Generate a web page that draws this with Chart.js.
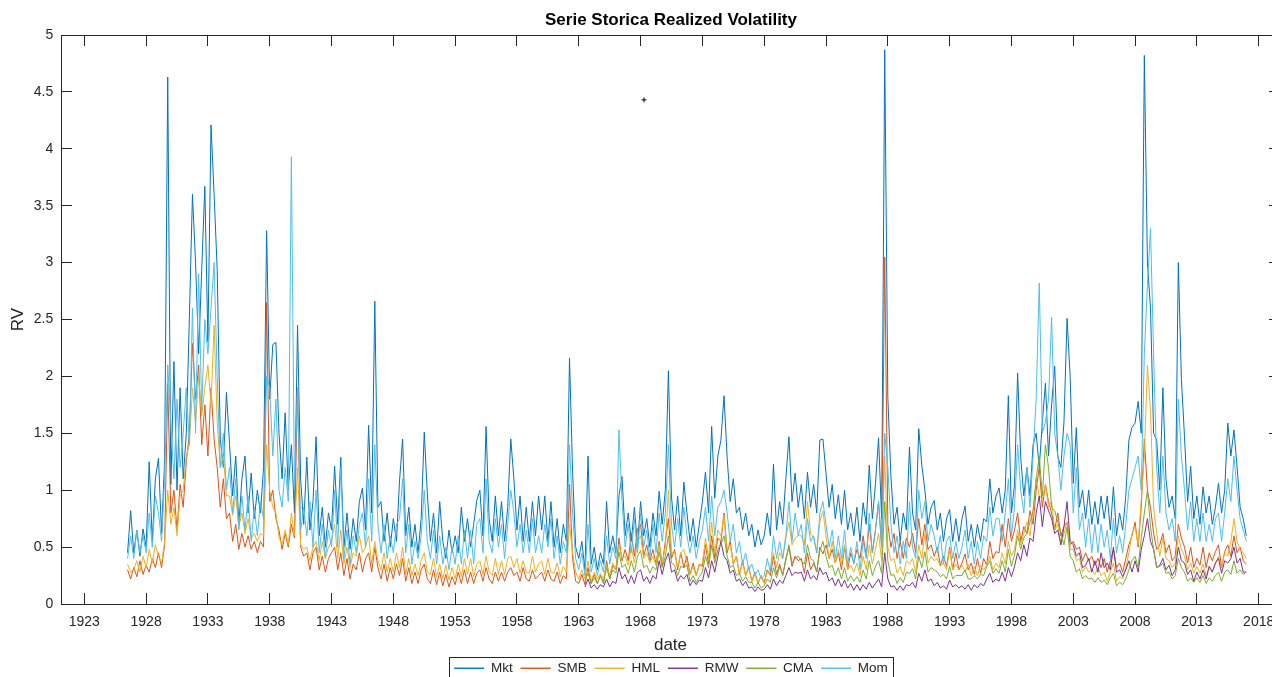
<!DOCTYPE html>
<html>
<head>
<meta charset="utf-8">
<title>Serie Storica Realized Volatility</title>
<script src="https://cdn.jsdelivr.net/npm/chart.js@4.4.1/dist/chart.umd.min.js"></script>
<style>
    html, body { margin: 0; padding: 0; background: #fff; overflow: hidden; }
    #wrap { width: 1272px; height: 677px; overflow: hidden; }
</style>
</head>
<body>
<div id="wrap"><canvas id="chartrv" width="1342" height="685"></canvas></div>
<script>
// serie trimestrali della volatilità realizzata (un valore ogni 3 mesi)
var startYear = 1926.5;   // Mkt, SMB, HML, Mom da luglio 1926
var startFive = 1963.5;   // RMW e CMA da luglio 1963
var step = 0.25;

var mkt = [
    0.45, 0.82,
    0.45, 0.65, 0.42, 0.66,
    0.50, 1.25, 0.55, 1.10,
    1.28, 0.62, 1.27, 4.63,
    1.05, 2.13, 1.00, 1.90, // 1930
    1.10, 1.50, 2.52, 3.60,
    3.00, 2.20, 2.94, 3.67,
    2.30, 4.21, 3.60, 2.94,
    1.45, 1.20, 1.86, 1.40,
    0.95, 1.30, 0.70, 1.10,
    1.30, 0.80, 1.15, 0.75,
    1.00, 0.80, 1.20, 3.28,
    1.80, 2.28, 2.30, 1.50,
    1.10, 1.68, 1.00, 1.40,
    0.80, 2.45, 1.10, 0.70, // 1940
    1.29, 0.65, 0.90, 1.47,
    0.60, 0.85, 0.50, 0.80,
    0.65, 1.21, 0.70, 1.29,
    0.50, 0.80, 0.48, 0.75,
    0.55, 0.90, 1.02, 0.65,
    1.57, 0.80, 2.66, 0.85,
    0.90, 0.55, 0.80, 0.50,
    0.75, 0.55, 1.08, 1.45,
    0.60, 0.85, 0.50, 0.70,
    0.45, 0.75, 1.51, 0.97, // 1950
    0.55, 0.80, 0.45, 0.90,
    0.55, 0.40, 0.65, 0.45,
    0.60, 0.45, 0.85, 0.55,
    0.75, 0.50, 0.70, 0.91,
    1.00, 0.60, 1.56, 0.75,
    0.55, 0.95, 0.60, 0.90,
    0.55, 0.85, 1.45, 1.10,
    0.65, 0.95, 0.55, 0.85,
    0.55, 0.90, 0.60, 0.95,
    0.65, 0.95, 0.55, 0.90, // 1960
    0.50, 0.75, 0.45, 0.70,
    0.55, 2.16, 1.16, 0.50,
    0.40, 0.55, 0.30, 1.30,
    0.35, 0.50, 0.30, 0.45,
    0.35, 0.90, 0.45, 0.60,
    0.45, 0.95, 1.12, 0.60,
    0.80, 0.55, 0.85, 0.50,
    0.90, 0.60, 0.75, 0.50,
    0.80, 0.60, 0.99, 0.70,
    1.00, 2.05, 0.94, 0.65, // 1970
    0.95, 0.60, 1.07, 0.80,
    0.55, 0.75, 0.50, 0.70,
    0.90, 1.16, 0.80, 1.56,
    0.93, 1.30, 1.44, 1.83,
    1.29, 0.90, 1.10, 0.80,
    0.85, 0.65, 0.80, 0.60,
    0.70, 0.50, 0.65, 0.52,
    0.60, 0.80, 0.60, 1.23,
    0.65, 0.90, 0.70, 1.10,
    1.47, 0.90, 1.15, 0.85, // 1980
    1.05, 0.75, 1.16, 0.85,
    1.05, 0.80, 1.44, 1.45,
    1.15, 0.85, 1.05, 0.75,
    0.96, 0.70, 1.00, 0.65,
    0.80, 0.60, 0.85, 0.55,
    0.89, 0.70, 1.22, 0.75,
    1.05, 1.46, 0.75, 4.87,
    1.82, 1.12, 0.70, 0.85,
    0.55, 0.80, 0.65, 1.38,
    0.80, 0.65, 1.54, 1.22, // 1990
    1.00, 0.70, 0.85, 0.91,
    0.65, 0.80, 0.55, 0.75,
    0.83, 0.55, 0.75, 0.55,
    0.75, 0.86, 0.55, 0.70,
    0.50, 0.70, 0.55, 0.75,
    0.72, 1.10, 0.80, 0.95,
    1.02, 0.80, 1.00, 1.83,
    0.80, 1.05, 2.03, 1.29,
    0.95, 1.20, 0.95, 1.40,
    1.50, 1.20, 1.60, 1.94, // 2000
    1.30, 1.75, 2.09, 1.30,
    1.20, 1.60, 2.51, 2.00,
    1.06, 1.55, 0.85, 1.00,
    0.75, 1.00, 0.70, 0.90,
    0.70, 0.95, 0.75, 0.95,
    0.65, 1.03, 0.60, 0.80,
    0.65, 0.95, 1.44, 1.55,
    1.59, 1.78, 1.50, 4.82,
    3.00, 2.60, 1.50, 1.44,
    1.00, 1.90, 1.10, 0.85, // 2010
    0.95, 0.75, 3.00, 1.97,
    1.47, 0.90, 1.21, 0.75,
    0.95, 0.70, 1.03, 0.80,
    0.95, 0.70, 0.85, 1.06,
    0.80, 1.00, 1.59, 1.30,
    1.53, 1.21, 0.85, 0.75,
    0.60
];

var smb = [
    0.30, 0.22,
    0.32, 0.24, 0.38, 0.26,
    0.34, 0.28, 0.40, 0.32,
    0.45, 0.32, 0.52, 1.94,
    0.80, 1.00, 0.65, 1.05, // 1930
    0.85, 1.25, 1.50, 2.29,
    1.80, 2.10, 1.40, 1.75,
    1.30, 1.90, 1.45, 1.20,
    0.85, 1.10, 0.75, 0.80,
    0.55, 0.70, 0.48, 0.62,
    0.50, 0.60, 0.48, 0.55,
    0.45, 0.55, 0.50, 2.65,
    0.90, 1.00, 0.75, 0.65,
    0.48, 0.62, 0.50, 0.70,
    0.58, 1.90, 0.50, 0.42, // 1940
    0.45, 0.30, 0.45, 0.50,
    0.30, 0.42, 0.28, 0.40,
    0.45, 0.50, 0.30, 0.45,
    0.25, 0.40, 0.22, 0.35,
    0.30, 0.45, 0.28, 0.40,
    0.45, 0.28, 0.50, 0.32,
    0.22, 0.35, 0.20, 0.32,
    0.22, 0.35, 0.25, 0.40,
    0.20, 0.32, 0.18, 0.28,
    0.18, 0.30, 0.35, 0.22, // 1950
    0.18, 0.30, 0.17, 0.28,
    0.16, 0.26, 0.15, 0.24,
    0.17, 0.28, 0.18, 0.30,
    0.18, 0.28, 0.18, 0.27,
    0.30, 0.20, 0.32, 0.22,
    0.18, 0.28, 0.20, 0.28,
    0.20, 0.28, 0.32, 0.25,
    0.28, 0.20, 0.32, 0.22,
    0.20, 0.30, 0.22, 0.25,
    0.28, 0.20, 0.30, 0.22, // 1960
    0.20, 0.28, 0.18, 0.25,
    0.22, 1.05, 0.40, 0.20,
    0.18, 0.26, 0.17, 0.32,
    0.18, 0.26, 0.18, 0.25,
    0.18, 0.38, 0.22, 0.34,
    0.30, 0.58, 0.38, 0.48,
    0.38, 0.62, 0.42, 0.66,
    0.70, 0.42, 0.52, 0.38,
    0.48, 0.35, 0.55, 0.34,
    0.55, 0.75, 0.40, 0.48, // 1970
    0.30, 0.45, 0.32, 0.42,
    0.26, 0.36, 0.25, 0.35,
    0.33, 0.52, 0.35, 0.60,
    0.40, 0.58, 0.55, 0.80,
    0.45, 0.55, 0.35, 0.42,
    0.26, 0.38, 0.25, 0.32,
    0.20, 0.28, 0.18, 0.25,
    0.19, 0.30, 0.25, 0.42,
    0.26, 0.35, 0.25, 0.40,
    0.50, 0.33, 0.42, 0.38, // 1980
    0.40, 0.27, 0.45, 0.30,
    0.36, 0.28, 0.50, 0.44,
    0.52, 0.40, 0.48, 0.36,
    0.45, 0.30, 0.50, 0.30,
    0.45, 0.36, 0.48, 0.40,
    0.60, 0.42, 0.70, 0.45,
    0.65, 0.90, 0.50, 3.05,
    0.70, 0.50, 0.62, 0.40,
    0.55, 0.40, 0.58, 0.50,
    0.62, 0.45, 0.75, 0.52, // 1990
    0.70, 0.48, 0.52, 0.42,
    0.50, 0.34, 0.42, 0.33,
    0.50, 0.30, 0.45, 0.30,
    0.36, 0.44, 0.30, 0.36,
    0.26, 0.40, 0.27, 0.40,
    0.34, 0.55, 0.40, 0.46,
    0.45, 0.70, 0.50, 0.75,
    0.55, 0.65, 0.80, 0.55,
    0.68, 0.62, 0.82, 0.70,
    1.00, 1.20, 0.85, 1.05, // 2000
    0.90, 0.80, 0.65, 0.80,
    0.60, 0.68, 0.72, 0.52,
    0.55, 0.48, 0.50, 0.38,
    0.45, 0.38, 0.42, 0.34,
    0.40, 0.32, 0.40, 0.28,
    0.38, 0.48, 0.32, 0.36,
    0.28, 0.40, 0.52, 0.60,
    0.72, 0.50, 0.85, 1.45,
    1.00, 0.85, 0.62, 0.48,
    0.52, 0.62, 0.45, 0.52, // 2010
    0.38, 0.42, 0.70, 0.58,
    0.50, 0.36, 0.50, 0.32,
    0.40, 0.34, 0.50, 0.32,
    0.45, 0.38, 0.46, 0.52,
    0.32, 0.46, 0.52, 0.42,
    0.60, 0.45, 0.50, 0.38,
    0.35
];

var hml = [
    0.35, 0.28,
    0.30, 0.38, 0.28, 0.42,
    0.32, 0.48, 0.36, 0.52,
    0.42, 0.36, 0.55, 1.00,
    0.70, 0.85, 0.60, 0.95, // 1930
    1.00, 1.30, 1.40, 1.90,
    1.60, 2.00, 1.65, 1.90,
    2.10, 1.75, 2.45, 1.60,
    1.20, 1.30, 0.95, 0.95,
    0.78, 0.95, 0.68, 0.80,
    0.62, 0.75, 0.58, 0.62,
    0.55, 0.62, 0.60, 1.40,
    1.00, 0.85, 0.80, 0.58,
    0.52, 0.65, 0.52, 0.80,
    0.60, 1.20, 0.52, 0.48, // 1940
    0.50, 0.38, 0.50, 0.55,
    0.38, 0.55, 0.40, 0.50,
    0.55, 0.70, 0.40, 0.65,
    0.35, 0.50, 0.32, 0.45,
    0.42, 0.60, 0.45, 0.50,
    0.60, 0.35, 0.55, 0.38,
    0.30, 0.45, 0.28, 0.40,
    0.28, 0.45, 0.32, 0.50,
    0.26, 0.40, 0.25, 0.35,
    0.25, 0.38, 0.45, 0.28, // 1950
    0.26, 0.40, 0.24, 0.35,
    0.22, 0.34, 0.21, 0.32,
    0.22, 0.35, 0.24, 0.40,
    0.26, 0.40, 0.24, 0.35,
    0.38, 0.26, 0.42, 0.28,
    0.25, 0.40, 0.26, 0.38,
    0.26, 0.40, 0.42, 0.32,
    0.40, 0.27, 0.38, 0.28,
    0.27, 0.42, 0.28, 0.35,
    0.38, 0.26, 0.40, 0.28, // 1960
    0.27, 0.36, 0.24, 0.33,
    0.28, 0.70, 0.45, 0.28,
    0.22, 0.30, 0.22, 0.38,
    0.20, 0.28, 0.22, 0.27,
    0.22, 0.34, 0.25, 0.36,
    0.30, 0.52, 0.40, 0.42,
    0.34, 0.50, 0.36, 0.55,
    0.60, 0.40, 0.45, 0.36,
    0.42, 0.34, 0.52, 0.36,
    0.50, 1.00, 0.45, 0.46, // 1970
    0.32, 0.45, 0.48, 0.36,
    0.26, 0.33, 0.25, 0.34,
    0.36, 0.58, 0.40, 0.72,
    0.45, 0.65, 0.60, 0.78,
    0.48, 0.52, 0.35, 0.42,
    0.26, 0.36, 0.25, 0.34,
    0.19, 0.27, 0.18, 0.25,
    0.18, 0.28, 0.30, 0.45,
    0.32, 0.45, 0.40, 0.58,
    0.72, 0.52, 0.58, 0.60, // 1980
    0.60, 0.52, 0.90, 0.62,
    0.58, 0.45, 0.72, 0.82,
    0.60, 0.40, 0.55, 0.36,
    0.48, 0.35, 0.52, 0.30,
    0.34, 0.28, 0.36, 0.25,
    0.42, 0.30, 0.52, 0.35,
    0.48, 0.62, 0.38, 1.30,
    0.50, 0.38, 0.40, 0.27,
    0.33, 0.25, 0.38, 0.35,
    0.40, 0.27, 0.52, 0.40, // 1990
    0.62, 0.36, 0.42, 0.38,
    0.40, 0.33, 0.36, 0.30,
    0.48, 0.30, 0.35, 0.30,
    0.34, 0.28, 0.35, 0.25,
    0.33, 0.25, 0.34, 0.30,
    0.34, 0.42, 0.30, 0.36,
    0.32, 0.45, 0.35, 0.55,
    0.42, 0.48, 0.65, 0.52,
    0.62, 0.72, 0.60, 0.82,
    1.10, 0.95, 0.92, 1.05, // 2000
    0.85, 0.90, 0.65, 0.70,
    0.52, 0.62, 0.72, 0.48,
    0.48, 0.38, 0.40, 0.28,
    0.33, 0.28, 0.30, 0.26,
    0.32, 0.25, 0.28, 0.20,
    0.28, 0.36, 0.20, 0.24,
    0.22, 0.32, 0.45, 0.62,
    0.68, 0.52, 0.92, 1.30,
    2.10, 1.70, 0.85, 0.62,
    0.42, 0.58, 0.40, 0.38, // 2010
    0.32, 0.36, 0.60, 0.48,
    0.42, 0.30, 0.36, 0.27,
    0.33, 0.27, 0.35, 0.25,
    0.33, 0.28, 0.36, 0.42,
    0.32, 0.45, 0.42, 0.55,
    0.75, 0.55, 0.48, 0.45,
    0.40
];

var rmw = [
    0.15, 0.22,
    0.14, 0.17, 0.13, 0.17,
    0.15, 0.22, 0.15, 0.20,
    0.18, 0.32, 0.22, 0.26,
    0.18, 0.25, 0.18, 0.28,
    0.30, 0.20, 0.24, 0.18,
    0.25, 0.22, 0.38, 0.26,
    0.38, 0.45, 0.28, 0.30, // 1970
    0.20, 0.25, 0.22, 0.26,
    0.16, 0.21, 0.17, 0.21,
    0.20, 0.32, 0.23, 0.38,
    0.28, 0.42, 0.55, 0.42,
    0.38, 0.27, 0.30, 0.20,
    0.22, 0.16, 0.20, 0.14,
    0.15, 0.11, 0.15, 0.12,
    0.13, 0.17, 0.13, 0.22,
    0.16, 0.21, 0.18, 0.25,
    0.32, 0.25, 0.28, 0.27, // 1980
    0.28, 0.20, 0.30, 0.22,
    0.25, 0.21, 0.32, 0.26,
    0.28, 0.20, 0.23, 0.16,
    0.22, 0.15, 0.21, 0.14,
    0.18, 0.12, 0.17, 0.12,
    0.17, 0.13, 0.19, 0.14,
    0.18, 0.22, 0.15, 0.45,
    0.22, 0.15, 0.16, 0.12,
    0.16, 0.12, 0.17, 0.16,
    0.19, 0.14, 0.27, 0.20, // 1990
    0.30, 0.20, 0.22, 0.16,
    0.19, 0.14, 0.16, 0.13,
    0.21, 0.15, 0.17, 0.14,
    0.16, 0.13, 0.17, 0.12,
    0.17, 0.14, 0.18, 0.16,
    0.22, 0.27, 0.19, 0.22,
    0.20, 0.28, 0.20, 0.32,
    0.24, 0.33, 0.45, 0.38,
    0.52, 0.42, 0.58, 0.55,
    0.80, 0.95, 0.68, 0.90, // 2000
    0.82, 0.75, 0.62, 0.65,
    0.52, 0.68, 0.90, 0.55,
    0.52, 0.42, 0.45, 0.32,
    0.34, 0.40, 0.28, 0.38,
    0.28, 0.45, 0.32, 0.36,
    0.30, 0.50, 0.28, 0.30,
    0.24, 0.30, 0.38, 0.28,
    0.38, 0.28, 0.48, 0.60,
    0.75, 0.55, 0.48, 0.32,
    0.34, 0.40, 0.30, 0.34, // 2010
    0.25, 0.30, 0.50, 0.38,
    0.36, 0.26, 0.30, 0.20,
    0.28, 0.22, 0.30, 0.22,
    0.33, 0.28, 0.36, 0.40,
    0.27, 0.38, 0.36, 0.40,
    0.50, 0.36, 0.40, 0.28,
    0.28
];

var cma = [
    0.20, 0.27,
    0.18, 0.23, 0.18, 0.25,
    0.19, 0.32, 0.22, 0.30,
    0.27, 0.46, 0.32, 0.35,
    0.27, 0.38, 0.28, 0.42,
    0.47, 0.32, 0.34, 0.27,
    0.33, 0.30, 0.46, 0.32,
    0.42, 0.60, 0.36, 0.34, // 1970
    0.25, 0.33, 0.32, 0.34,
    0.20, 0.25, 0.19, 0.24,
    0.28, 0.42, 0.32, 0.52,
    0.36, 0.48, 0.52, 0.60,
    0.42, 0.32, 0.34, 0.25,
    0.27, 0.20, 0.24, 0.19,
    0.19, 0.14, 0.19, 0.14,
    0.16, 0.22, 0.19, 0.32,
    0.23, 0.33, 0.26, 0.38,
    0.52, 0.36, 0.40, 0.42, // 1980
    0.38, 0.35, 0.52, 0.40,
    0.38, 0.28, 0.47, 0.55,
    0.42, 0.32, 0.34, 0.25,
    0.32, 0.22, 0.32, 0.20,
    0.25, 0.20, 0.24, 0.19,
    0.30, 0.22, 0.38, 0.25,
    0.33, 0.38, 0.27, 0.90,
    0.38, 0.25, 0.26, 0.18,
    0.23, 0.19, 0.28, 0.27,
    0.31, 0.22, 0.42, 0.32, // 1990
    0.46, 0.28, 0.32, 0.30,
    0.28, 0.24, 0.26, 0.22,
    0.33, 0.22, 0.25, 0.25,
    0.25, 0.30, 0.22, 0.22,
    0.25, 0.22, 0.26, 0.25,
    0.33, 0.38, 0.27, 0.31,
    0.27, 0.38, 0.28, 0.48,
    0.33, 0.43, 0.60, 0.48,
    0.58, 0.62, 0.72, 0.82,
    1.10, 1.30, 0.95, 1.40, // 2000
    1.20, 0.85, 0.82, 0.72,
    0.62, 0.52, 0.68, 0.42,
    0.38, 0.28, 0.31, 0.22,
    0.25, 0.22, 0.23, 0.19,
    0.23, 0.19, 0.21, 0.17,
    0.23, 0.27, 0.16, 0.19,
    0.17, 0.22, 0.30, 0.38,
    0.42, 0.32, 0.58, 0.80,
    1.00, 0.68, 0.48, 0.32,
    0.33, 0.36, 0.27, 0.28, // 2010
    0.22, 0.25, 0.40, 0.32,
    0.28, 0.20, 0.23, 0.19,
    0.23, 0.19, 0.25, 0.18,
    0.23, 0.20, 0.25, 0.28,
    0.20, 0.28, 0.30, 0.26,
    0.38, 0.27, 0.30, 0.26,
    0.28
];

var mom = [
    0.40, 0.60,
    0.40, 0.65, 0.45, 0.60,
    0.45, 0.80, 0.50, 0.95,
    0.80, 0.55, 1.10, 2.10,
    1.60, 1.10, 1.80, 1.20, // 1930
    1.50, 1.90, 1.40, 2.60,
    1.50, 2.90, 1.70, 2.50,
    2.20, 2.60, 3.00, 2.00,
    1.20, 1.50, 1.00, 1.20,
    0.80, 1.10, 0.65, 0.95,
    0.65, 0.95, 0.55, 0.85,
    0.60, 0.90, 0.75, 2.00,
    1.90, 1.30, 1.80, 1.00,
    0.85, 1.20, 0.90, 3.93,
    1.00, 1.90, 0.65, 0.85, // 1940
    0.60, 0.90, 0.50, 1.00,
    0.45, 0.70, 0.40, 0.65,
    0.50, 1.00, 0.50, 1.20,
    0.40, 0.65, 0.35, 0.60,
    0.45, 0.70, 0.80, 0.50,
    1.10, 0.55, 1.40, 0.70,
    0.45, 0.70, 0.40, 0.60,
    0.45, 0.70, 0.75, 1.10,
    0.45, 0.70, 0.35, 0.55,
    0.40, 0.60, 1.00, 0.55, // 1950
    0.40, 0.65, 0.35, 0.60,
    0.35, 0.50, 0.30, 0.50,
    0.35, 0.60, 0.35, 0.65,
    0.40, 0.65, 0.35, 0.70,
    0.75, 0.45, 1.10, 0.55,
    0.45, 0.75, 0.50, 0.70,
    0.40, 0.70, 1.00, 0.80,
    0.50, 0.70, 0.45, 0.65,
    0.45, 0.75, 0.45, 0.60,
    0.45, 0.70, 0.50, 0.75, // 1960
    0.40, 0.60, 0.35, 0.55,
    0.45, 1.40, 0.80, 0.40,
    0.30, 0.45, 0.25, 0.70,
    0.28, 0.40, 0.25, 0.38,
    0.28, 0.60, 0.35, 0.50,
    0.40, 1.53, 0.90, 0.50,
    0.70, 0.45, 0.75, 0.45,
    0.80, 0.50, 0.65, 0.40,
    0.70, 0.45, 0.80, 0.55,
    0.80, 1.40, 0.70, 0.50, // 1970
    0.75, 0.50, 0.85, 0.60,
    0.45, 0.60, 0.40, 0.55,
    0.65, 0.85, 0.55, 0.95,
    0.60, 0.85, 0.90, 1.00,
    0.80, 0.55, 0.70, 0.45,
    0.55, 0.35, 0.45, 0.30,
    0.35, 0.25, 0.30, 0.22,
    0.25, 0.40, 0.28, 0.60,
    0.40, 0.55, 0.40, 0.60,
    0.90, 0.55, 0.80, 0.60, // 1980
    0.70, 0.45, 0.75, 0.55,
    0.60, 0.45, 0.80, 0.90,
    0.70, 0.50, 0.65, 0.40,
    0.60, 0.40, 0.65, 0.35,
    0.50, 0.35, 0.55, 0.30,
    0.55, 0.40, 0.80, 0.45,
    0.65, 0.90, 0.50, 1.50,
    1.20, 0.70, 0.45, 0.60,
    0.35, 0.55, 0.40, 0.90,
    0.50, 0.40, 1.00, 0.75, // 1990
    0.90, 0.55, 0.70, 0.60,
    0.45, 0.60, 0.35, 0.55,
    0.60, 0.40, 0.55, 0.40,
    0.50, 0.65, 0.40, 0.55,
    0.35, 0.55, 0.40, 0.60,
    0.55, 0.85, 0.60, 0.75,
    0.75, 0.55, 0.80, 1.10,
    0.60, 0.85, 1.40, 1.00,
    0.80, 1.20, 0.85, 1.30,
    1.80, 2.82, 1.50, 1.60, // 2000
    1.80, 2.52, 1.50, 1.30,
    1.00, 1.30, 1.50, 1.40,
    0.80, 1.20, 0.65, 0.80,
    0.50, 0.75, 0.45, 0.70,
    0.45, 0.70, 0.50, 0.65,
    0.40, 0.75, 0.45, 0.60,
    0.45, 0.70, 1.00, 1.10,
    1.20, 1.30, 1.00, 2.20,
    2.80, 3.30, 2.20, 1.20,
    0.80, 1.30, 0.80, 0.65, // 2010
    0.75, 0.55, 1.80, 1.30,
    1.00, 0.65, 0.90, 0.55,
    0.75, 0.55, 0.80, 0.55,
    0.70, 0.55, 0.75, 0.80,
    0.55, 0.80, 1.10, 0.90,
    1.30, 1.00, 0.75, 0.65,
    0.55
];

var xTicks = [1923, 1928, 1933, 1938, 1943, 1948, 1953, 1958, 1963, 1968,
              1973, 1978, 1983, 1988, 1993, 1998, 2003, 2008, 2013, 2018];
var xMin = 1921.115;
var xMax = 2019.725;

var seriesNames = ['Mkt', 'SMB', 'HML', 'RMW', 'CMA', 'Mom'];
var seriesValues = [mkt, smb, hml, rmw, cma, mom];
var seriesStart = [startYear, startYear, startYear, startFive, startFive, startYear];
var seriesColors = ['#0072BD', '#D95319', '#EDB120', '#7E2F8E', '#77AC30', '#4DBEEE'];

function toPoints(values, start) {
    var pts = [];
    for (var i = 0; i < values.length; i++) {
        pts.push({ x: start + i * step, y: values[i] });
    }
    return pts;
}

var datasets = [];
for (var k = 0; k < seriesNames.length; k++) {
    datasets.push({
        label: seriesNames[k],
        data: toPoints(seriesValues[k], seriesStart[k]),
        borderColor: seriesColors[k],
        backgroundColor: seriesColors[k],
        borderWidth: 1,
        pointRadius: 0,
        tension: 0,
        // l'ultima serie va disegnata sopra le altre
        order: seriesNames.length - k
    });
}

// piccolo cursore nero in alto
datasets.push({
    label: 'cursore',
    data: [{ x: 1968.28, y: 4.43 }],
    showLine: false,
    pointStyle: 'cross',
    pointRadius: 2.5,
    pointBorderColor: '#000',
    pointBorderWidth: 1,
    order: 0
});

var ink = '#262626';
var axisGrid = { drawOnChartArea: false, drawTicks: true, tickLength: -11, tickColor: ink, tickWidth: 1 };
var axisBorder = { display: true, color: ink, width: 1 };

function setYearTicks(scale) {
    scale.ticks = xTicks.map(function (v) { return { value: v }; });
}

// cornice della legenda
var legendBorder = {
    id: 'legendBorder',
    afterDraw: function (chart) {
        var boxes = chart.legend.legendHitBoxes;
        if (!boxes || !boxes.length) return;
        var first = boxes[0];
        var last = boxes[boxes.length - 1];
        var ctx = chart.ctx;
        var left = Math.round(first.left - 5.4) + 0.5;
        var right = Math.round(last.left + last.width + 5.3) + 0.5;
        var top = Math.round(first.top - 5) + 0.5;
        ctx.save();
        ctx.strokeStyle = ink;
        ctx.lineWidth = 1;
        ctx.strokeRect(left, top, right - left, 23.4);
        ctx.restore();
    }
};

Chart.defaults.font.family = '"Liberation Sans", Arial, Helvetica, sans-serif';

var chartArea = document.getElementById('chartrv').getContext('2d');
var chartrv = new Chart(chartArea, {
    type: 'line',
    data: { datasets: datasets },
    plugins: [legendBorder],
    options: {
        responsive: false,
        animation: false,
        events: [],
        layout: { padding: 0 },
        scales: {
            x: {
                type: 'linear',
                position: 'bottom',
                min: xMin,
                max: xMax,
                afterBuildTicks: setYearTicks,
                afterFit: function (s) { s.height = 49.5; },
                ticks: {
                    autoSkip: false,
                    maxRotation: 0,
                    padding: 20.3,
                    color: ink,
                    font: { size: 14 },
                    callback: function (v) { return String(v); }
                },
                grid: axisGrid,
                border: axisBorder,
                title: {
                    display: true,
                    text: 'date',
                    color: ink,
                    font: { size: 17, lineHeight: 1 },
                    padding: { top: 0, bottom: 0 }
                }
            },
            x2: {
                type: 'linear',
                position: 'top',
                min: xMin,
                max: xMax,
                afterBuildTicks: setYearTicks,
                afterFit: function (s) { s.height = 0; },
                ticks: { display: false },
                grid: axisGrid,
                border: axisBorder
            },
            y: {
                position: 'left',
                min: 0,
                max: 5,
                afterFit: function (s) { s.width = 61; },
                ticks: {
                    stepSize: 0.5,
                    padding: 18.7,
                    color: ink,
                    font: { size: 14 },
                    callback: function (v) { return String(v); }
                },
                grid: axisGrid,
                border: axisBorder,
                title: {
                    display: true,
                    text: 'RV',
                    color: ink,
                    font: { size: 17, lineHeight: 1 },
                    padding: { top: 10, bottom: 0 }
                }
            },
            y2: {
                position: 'right',
                min: 0,
                max: 5,
                afterFit: function (s) { s.width = 62; },
                ticks: { display: false, stepSize: 0.5 },
                grid: axisGrid,
                border: axisBorder
            }
        },
        plugins: {
            title: {
                display: true,
                text: 'Serie Storica Realized Volatility',
                color: '#000',
                font: { size: 17, weight: 'bold' },
                padding: { top: 10.3, bottom: 4.3 }
            },
            legend: {
                position: 'bottom',
                labels: {
                    boxWidth: 30,
                    boxHeight: 0,
                    padding: 8,
                    color: ink,
                    font: { size: 13.5 },
                    filter: function (item) { return item.datasetIndex < 6; },
                    sort: function (a, b) { return a.datasetIndex - b.datasetIndex; }
                }
            },
            tooltip: { enabled: false }
        }
    }
});
</script>
</body>
</html>
